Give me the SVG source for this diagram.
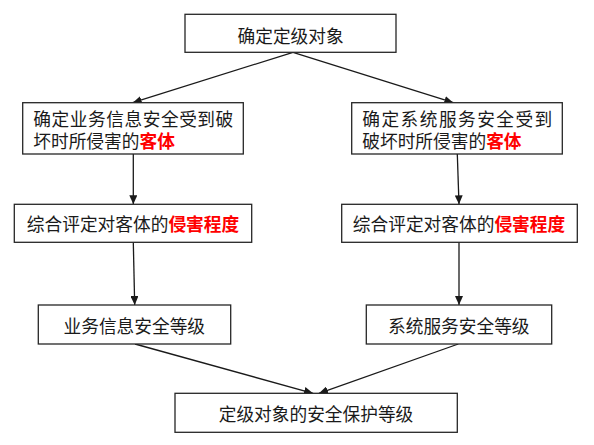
<svg xmlns="http://www.w3.org/2000/svg" width="594" height="445" viewBox="0 0 594 445">
<style>
.box{fill:#fff;stroke:#262626;stroke-width:1.3}
.t{font-family:"Noto Sans CJK SC","Microsoft YaHei",sans-serif;font-size:17.7px;fill:#1a1a1a;dominant-baseline:central}
.c{text-anchor:middle}
.r{fill:#ff0000;font-weight:bold}
.conn{stroke:#1a1a1a;stroke-width:1.3;fill:none;marker-end:url(#ah)}
</style>
<defs>
<marker id="ah" markerUnits="userSpaceOnUse" markerWidth="10" markerHeight="8" refX="9" refY="4" orient="auto">
<path d="M0,0 L9,4 L0,8 Z" fill="#1a1a1a"/>
</marker>
</defs>
<rect width="594" height="445" fill="#fff"/>
<g id="connectors">
<line class="conn" x1="293" y1="52.3" x2="132.7" y2="102.7"/>
<line class="conn" x1="293" y1="52.3" x2="453.3" y2="102.7"/>
<line class="conn" x1="133.3" y1="154" x2="133.3" y2="204.3"/>
<line class="conn" x1="457.3" y1="154" x2="459" y2="204.3"/>
<line class="conn" x1="133.3" y1="242.3" x2="134.7" y2="305"/>
<line class="conn" x1="459" y1="242.3" x2="459" y2="305"/>
<line class="conn" x1="135" y1="344" x2="313" y2="393.3"/>
<line class="conn" x1="458.3" y1="344" x2="319" y2="393.3"/>
</g>
<g id="n-top">
<rect class="box" x="185" y="14.3" width="211" height="38"/>
<text class="t c" x="290.6" y="34.5">确定定级对象</text>
</g>
<g id="n-l1">
<rect class="box" x="22.7" y="102.7" width="220.6" height="51.3"/>
<text class="t"><tspan x="33.3" y="118" textLength="200" lengthAdjust="spacing">确定业务信息安全受到破</tspan><tspan x="33.3" y="140">坏时所侵害的</tspan><tspan class="r">客体</tspan></text>
</g>
<g id="n-r1">
<rect class="box" x="351.7" y="102.7" width="210.6" height="51.3"/>
<text class="t"><tspan x="362.3" y="118" textLength="190" lengthAdjust="spacing">确定系统服务安全受到</tspan><tspan x="362.3" y="140">破坏时所侵害的</tspan><tspan class="r">客体</tspan></text>
</g>
<g id="n-l2">
<rect class="box" x="14.3" y="204.3" width="237.4" height="38"/>
<text class="t c" x="133" y="223.3">综合评定对客体的<tspan class="r">侵害程度</tspan></text>
</g>
<g id="n-r2">
<rect class="box" x="341.7" y="204.3" width="235.6" height="38"/>
<text class="t c" x="459" y="223.3">综合评定对客体的<tspan class="r">侵害程度</tspan></text>
</g>
<g id="n-l3">
<rect class="box" x="38.3" y="305" width="192.4" height="39"/>
<text class="t c" x="134.3" y="324.5">业务信息安全等级</text>
</g>
<g id="n-r3">
<rect class="box" x="366.3" y="305" width="185.4" height="39"/>
<text class="t c" x="458.8" y="324.5">系统服务安全等级</text>
</g>
<g id="n-bottom">
<rect class="box" x="175" y="393.3" width="282.3" height="39"/>
<text class="t c" x="316" y="412.8">定级对象的安全保护等级</text>
</g>
</svg>
